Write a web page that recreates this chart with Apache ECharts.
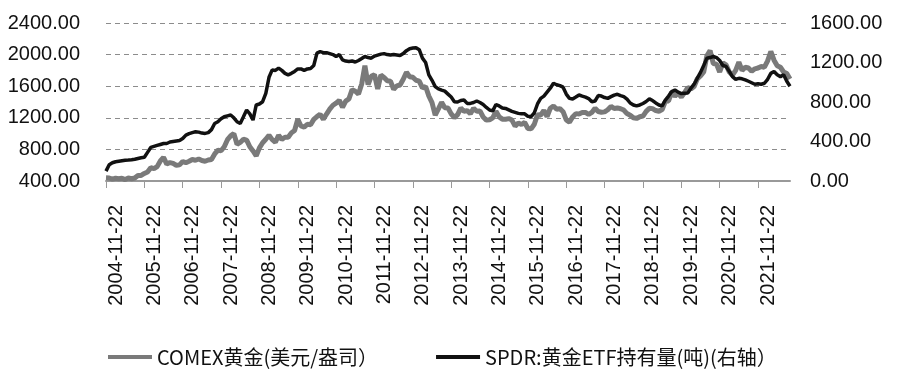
<!DOCTYPE html>
<html>
<head>
<meta charset="utf-8">
<script src="https://cdn.jsdelivr.net/npm/echarts@6/dist/echarts.min.js"></script>
<style>
  html, body { margin: 0; padding: 0; background: #fff; }
  #chart { width: 900px; height: 377px; }
</style>
</head>
<body>
<div id="chart"></div>
<script>
// 月度日期 2004-11-22 ~ 2022-09-22
let months = []
for (let y = 2004; y <= 2022; y++) {
  for (let m = 1; m <= 12; m++) {
    if ((y === 2004 && m < 11) || (y === 2022 && m > 9)) continue
    months.push(y + '-' + (m < 10 ? '0' + m : m) + '-22')
  }
}

// COMEX黄金(美元/盎司)
let comexGold = [
  440, 438,
  424, 435, 428, 435, 418, 437, 429, 438, 470, 470, 495, 513,
  568, 556, 582, 654, 700, 614, 633, 623, 598, 604, 646, 632,
  650, 672, 663, 679, 659, 650, 666, 673, 743, 789, 783, 834,
  923, 971, 1000, 865, 888, 928, 918, 833, 780, 718, 819, 884,
  928, 980, 924, 891, 979, 927, 954, 953, 1009, 1040, 1182, 1096,
  1081, 1118, 1113, 1180, 1215, 1245, 1181, 1248, 1309, 1359, 1386, 1421,
  1333, 1411, 1439, 1556, 1536, 1500, 1628, 1860, 1620, 1725, 1746, 1566,
  1740, 1711, 1669, 1664, 1560, 1604, 1615, 1687, 1776, 1720, 1713, 1675,
  1664, 1578, 1597, 1476, 1393, 1234, 1313, 1396, 1326, 1323, 1250, 1202,
  1240, 1322, 1283, 1291, 1250, 1322, 1282, 1287, 1210, 1171, 1175, 1199,
  1283, 1212, 1183, 1182, 1190, 1171, 1095, 1134, 1115, 1141, 1065, 1060,
  1118, 1238, 1233, 1293, 1215, 1321, 1349, 1309, 1316, 1277, 1173, 1146,
  1211, 1253, 1249, 1268, 1268, 1242, 1268, 1322, 1280, 1270, 1275, 1302,
  1345, 1318, 1325, 1315, 1298, 1253, 1233, 1201, 1192, 1214, 1222, 1281,
  1321, 1316, 1292, 1283, 1305, 1409, 1413, 1529, 1472, 1511, 1463, 1517,
  1582, 1566, 1596, 1694, 1730, 1780, 1985, 2050, 1887, 1879, 1780, 1895,
  1870, 1780, 1740, 1800, 1905, 1800, 1840, 1830, 1790, 1820, 1830, 1850,
  1840, 1920, 2040, 1930, 1860, 1840, 1780, 1760, 1690
]

// SPDR黄金ETF持有量(吨)
let spdrHold = [
  100, 165,
  185, 195, 200, 205, 210, 212, 215, 220, 228, 235, 240, 290,
  340, 350, 360, 370, 380, 380, 395, 400, 405, 410, 430, 465,
  480, 490, 498, 495, 485, 482, 490, 520, 583, 600, 630, 651,
  660, 668, 640, 600, 583, 650, 719, 680, 617, 770, 780, 803,
  888, 1050, 1125, 1120, 1143, 1120, 1090, 1075, 1090, 1110, 1135, 1135,
  1120, 1135, 1140, 1170, 1295, 1310, 1300, 1300, 1290, 1280, 1260, 1280,
  1227, 1215, 1210, 1215, 1205, 1220, 1240, 1261, 1250, 1244, 1265, 1275,
  1285, 1290, 1280, 1275, 1280, 1275, 1270, 1290, 1320, 1340, 1346, 1350,
  1330, 1244, 1200, 1075, 1020, 956, 932, 920, 910, 880, 850, 803,
  800, 815, 820, 786, 786, 795, 810, 795, 775, 745, 719, 710,
  775, 760, 740, 735, 720, 705, 695, 685, 680, 680, 655, 651,
  690, 780, 837, 860, 900, 940, 990, 975, 966, 950, 880, 837,
  830, 850, 871, 860, 850, 835, 803, 810, 865, 860, 845, 837,
  854, 870, 878, 865, 855, 830, 790, 770, 760, 770, 785, 805,
  831, 815, 790, 770, 760, 820, 860, 905, 922, 900, 885, 888,
  890, 940, 980, 1041, 1100, 1170, 1244, 1250, 1261, 1250, 1220, 1170,
  1160, 1110, 1057, 1030, 1040, 1035, 1024, 1010, 995, 980, 985, 980,
  990, 1030, 1090, 1108, 1075, 1057, 1075, 1010, 960
]

let seriesNames = ['COMEX黄金(美元/盎司）', 'SPDR:黄金ETF持有量(吨)(右轴）']

// 只在每年11月显示刻度和标签
let isNov = (idx, val) => val.slice(5, 7) === '11'

let myChart = echarts.init(document.getElementById('chart'))
myChart.setOption({
  animation: false,
  color: ['#7a7a7a', '#111111'],
  grid: {
    left: 106,
    right: 110,
    top: 23,
    bottom: 196,
    containLabel: false,
    outerBoundsMode: 'none'
  },
  legend: {
    left: 103,
    top: 342,
    icon: 'rect',
    itemWidth: 44,
    itemHeight: 4,
    itemGap: 58,
    textStyle: {
      fontFamily: 'Noto Sans CJK SC',
      fontSize: 20,
      color: '#111'
    },
    data: seriesNames
  },
  xAxis: {
    type: 'category',
    boundaryGap: false,
    data: months,
    axisLine: { lineStyle: { color: '#999', width: 2 } },
    axisTick: { interval: isNov, length: 7, lineStyle: { color: '#999', width: 1 } },
    axisLabel: {
      interval: isNov,
      rotate: 90,
      margin: 24,
      verticalAlign: 'top',
      fontFamily: 'Liberation Sans',
      fontSize: 20,
      color: '#111'
    },
    splitLine: { show: false }
  },
  yAxis: [
    {
      type: 'value',
      min: 400,
      max: 2400,
      interval: 400,
      axisLine: { show: false },
      axisTick: { show: false },
      axisLabel: {
        margin: 26,
        fontFamily: 'Liberation Sans',
        fontSize: 20,
        color: '#111',
        formatter: v => v.toFixed(2)
      },
      splitLine: { lineStyle: { color: '#8c8c8c', type: [5, 4], width: 1 } }
    },
    {
      type: 'value',
      min: 0,
      max: 1600,
      interval: 400,
      axisLine: { show: false },
      axisTick: { show: false },
      axisLabel: {
        margin: 20,
        fontFamily: 'Liberation Sans',
        fontSize: 20,
        color: '#111',
        formatter: v => v.toFixed(2)
      },
      splitLine: { show: false }
    }
  ],
  series: [
    {
      name: seriesNames[0],
      type: 'line',
      yAxisIndex: 0,
      symbol: 'none',
      lineStyle: { width: 5, color: '#7a7a7a' },
      data: comexGold
    },
    {
      name: seriesNames[1],
      type: 'line',
      yAxisIndex: 1,
      symbol: 'none',
      lineStyle: { width: 3.5, color: '#111111' },
      data: spdrHold
    }
  ]
})
</script>
</body>
</html>
